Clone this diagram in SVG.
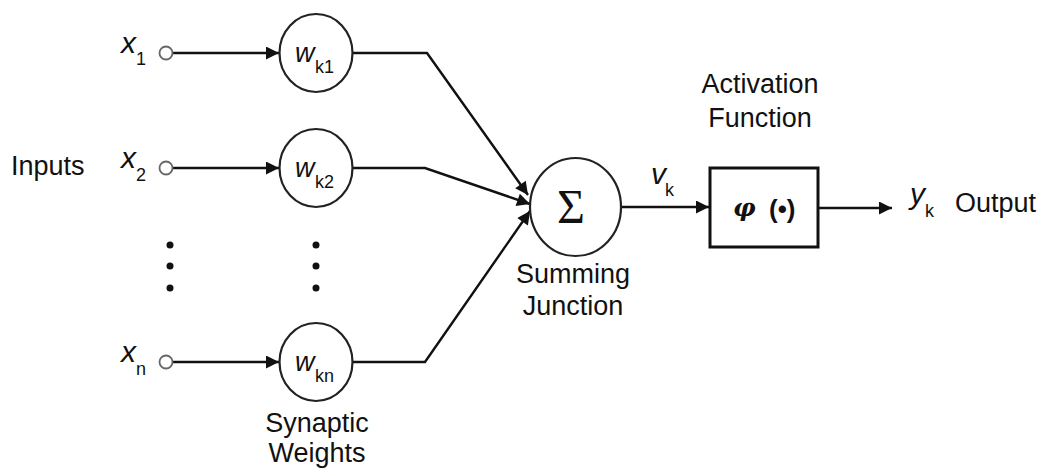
<svg xmlns="http://www.w3.org/2000/svg" width="1041" height="468" viewBox="0 0 1041 468">
  <style>
    text { font-family: "Liberation Sans", Arial, sans-serif; fill: #111; }
    .lbl { font-size: 27px; }
    .var { font-size: 30px; font-style: italic; }
    .wv { font-size: 27px; font-style: italic; }
    .sub { font-size: 18px; font-style: normal; }
    .node { fill: #fff; stroke: #222; stroke-width: 2.2; }
    .wire { fill: none; stroke: #111; stroke-width: 2.4; }
    .term { fill: #fff; stroke: #666; stroke-width: 1.8; }
    .dot { fill: #111; }
  </style>
  <defs>
    <marker id="arrow" viewBox="0 0 10 10" refX="10" refY="5" markerWidth="18" markerHeight="13" markerUnits="userSpaceOnUse" orient="auto">
      <path d="M0,0 L10,5 L0,10 z" fill="#111"/>
    </marker>
  </defs>

  <!-- connectors -->
  <g id="connectors">
    <line class="wire" x1="173" y1="53" x2="279" y2="53" marker-end="url(#arrow)"/>
    <line class="wire" x1="173" y1="168" x2="279" y2="168" marker-end="url(#arrow)"/>
    <line class="wire" x1="173" y1="362" x2="279" y2="362" marker-end="url(#arrow)"/>
    <polyline class="wire" points="353,53 427,53 528,195" marker-end="url(#arrow)"/>
    <polyline class="wire" points="353,168 425,168 530,204" marker-end="url(#arrow)"/>
    <polyline class="wire" points="353,362 425,362 530,211" marker-end="url(#arrow)"/>
    <line class="wire" x1="621" y1="207" x2="709" y2="207" marker-end="url(#arrow)"/>
    <line class="wire" x1="818" y1="208" x2="892" y2="208" marker-end="url(#arrow)"/>
  </g>

  <!-- inputs -->
  <g id="input-x1">
    <text class="var" x="121" y="53">x</text>
    <text class="sub" x="136" y="65">1</text>
    <circle class="term" cx="166" cy="53" r="6.5"/>
  </g>
  <g id="input-x2">
    <text class="var" x="121" y="168">x</text>
    <text class="sub" x="136" y="181">2</text>
    <circle class="term" cx="166" cy="168" r="6.5"/>
  </g>
  <g id="input-xn">
    <text class="var" x="121" y="362">x</text>
    <text class="sub" x="136" y="375">n</text>
    <circle class="term" cx="166" cy="362" r="6.5"/>
  </g>
  <g id="input-dots">
    <circle class="dot" cx="170" cy="245" r="3.5"/>
    <circle class="dot" cx="170" cy="266" r="3.5"/>
    <circle class="dot" cx="170" cy="288" r="3.5"/>
  </g>
  <g id="inputs-label">
    <text class="lbl" x="11" y="175">Inputs</text>
  </g>

  <!-- synaptic weights -->
  <g id="weight-k1">
    <ellipse class="node" cx="316" cy="53" rx="36.5" ry="39"/>
    <text class="wv" x="295" y="62">w</text>
    <text class="sub" x="315" y="73">k1</text>
  </g>
  <g id="weight-k2">
    <ellipse class="node" cx="316" cy="168" rx="36.5" ry="39"/>
    <text class="wv" x="295" y="177">w</text>
    <text class="sub" x="315" y="188">k2</text>
  </g>
  <g id="weight-dots">
    <circle class="dot" cx="316" cy="245" r="3.5"/>
    <circle class="dot" cx="316" cy="266" r="3.5"/>
    <circle class="dot" cx="316" cy="288" r="3.5"/>
  </g>
  <g id="weight-kn">
    <ellipse class="node" cx="316" cy="362" rx="36.5" ry="39"/>
    <text class="wv" x="295" y="371">w</text>
    <text class="sub" x="315" y="382">kn</text>
  </g>
  <g id="weights-label">
    <text class="lbl" x="317" y="432" text-anchor="middle">Synaptic</text>
    <text class="lbl" x="317" y="462" text-anchor="middle">Weights</text>
  </g>

  <!-- summing junction -->
  <g id="summing-junction">
    <ellipse class="node" cx="575.5" cy="207" rx="45.5" ry="49"/>
    <text x="571" y="223" text-anchor="middle" style="font-family:'Liberation Serif','DejaVu Serif',serif;font-size:48px">Σ</text>
    <text class="lbl" x="573" y="283" text-anchor="middle">Summing</text>
    <text class="lbl" x="573" y="315" text-anchor="middle">Junction</text>
  </g>
  <g id="vk-label">
    <text class="var" x="651" y="184">v</text>
    <text class="sub" x="665" y="196">k</text>
  </g>

  <!-- activation function -->
  <g id="activation">
    <rect x="710" y="168" width="108" height="79" fill="#fff" stroke="#111" stroke-width="3"/>
    <text x="733" y="216" style="font-family:'DejaVu Serif','Liberation Serif',serif;font-size:25px;font-style:italic;font-weight:bold">φ</text>
    <text x="769" y="218" style="font-size:26px;font-weight:bold">(•)</text>
    <text class="lbl" x="760" y="93" text-anchor="middle">Activation</text>
    <text class="lbl" x="760" y="127" text-anchor="middle">Function</text>
  </g>

  <!-- output -->
  <g id="output">
    <text class="var" x="910" y="204">y</text>
    <text class="sub" x="925" y="217">k</text>
    <text class="lbl" x="955" y="212">Output</text>
  </g>
</svg>
